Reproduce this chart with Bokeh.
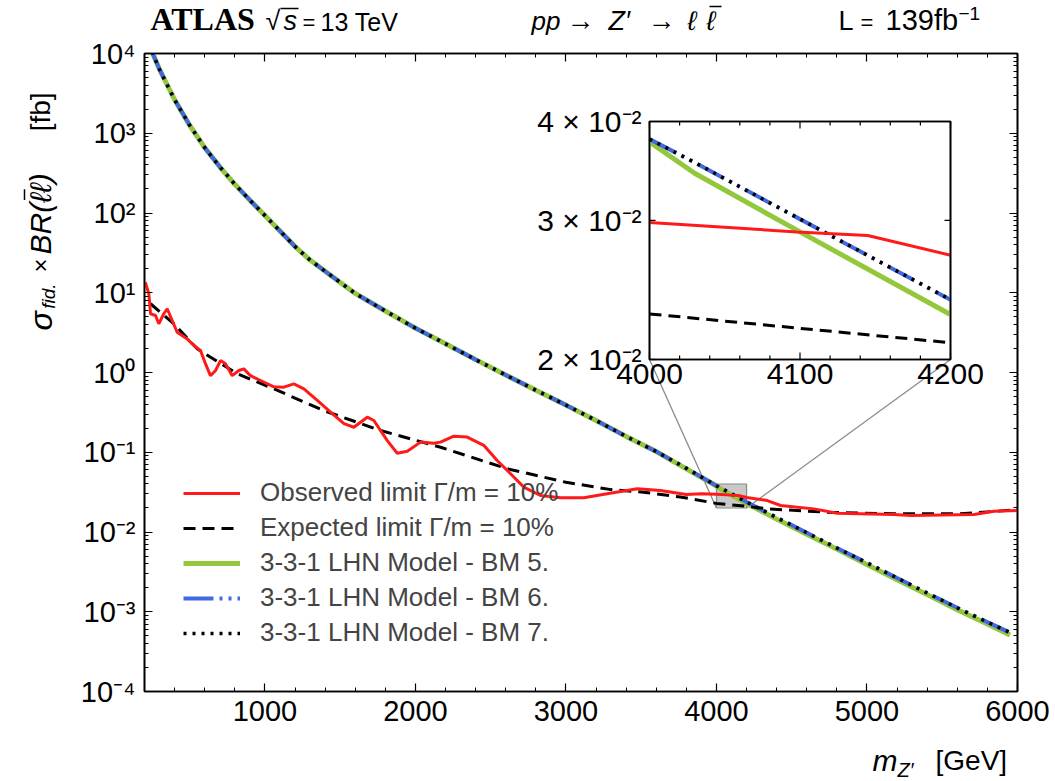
import numpy as np
from bokeh.plotting import figure
from bokeh.layouts import column, row
from bokeh.models import (Range1d, LogScale, FixedTicker, LinearAxis, LogAxis,
                          CustomJSTickFormatter, Legend, LegendItem)
from bokeh.core.properties import value
from bokeh.embed import file_html
from bokeh.resources import INLINE

# ---------------- data ----------------
model_mass = [250, 300, 400, 500, 600, 700, 800, 900, 1000, 1200, 1300, 1400, 1600, 1800,
              2000, 2200, 2400, 2600, 2800, 3000, 3200, 3400, 3600, 3800, 4000, 4030,
              4100, 4200, 4400, 4600, 4800, 5000, 5200, 5400, 5600, 5800, 5950]
bm5_xsec = [1.05e4, 6.3e3, 2.63e3, 1.26e3, 6.6e2, 3.8e2, 2.29e2, 1.45e2, 93.0, 38.0, 25.7,
            18.6, 9.8, 5.9, 3.6, 2.29, 1.45, 0.93, 0.60, 0.39, 0.25, 0.158, 0.102,
            0.062, 0.0377, 0.0344, 0.0290, 0.0228, 0.0145, 0.0094, 0.0061, 0.0039,
            0.00252, 0.00164, 0.00106, 0.00070, 0.00051]
bm6_xsec = [1.05e4, 6.3e3, 2.63e3, 1.26e3, 6.6e2, 3.8e2, 2.29e2, 1.45e2, 93.0, 38.0, 25.7,
            18.6, 9.8, 5.9, 3.6, 2.29, 1.45, 0.93, 0.60, 0.39, 0.25, 0.158, 0.102,
            0.063, 0.0380, 0.0355, 0.0301, 0.0238, 0.0152, 0.0098, 0.0063, 0.0041,
            0.00265, 0.00172, 0.00112, 0.00074, 0.00055]
bm7_xsec = [1.05e4, 6.3e3, 2.63e3, 1.26e3, 6.6e2, 3.8e2, 2.29e2, 1.45e2, 93.0, 38.0, 25.7,
            18.6, 9.8, 5.9, 3.6, 2.29, 1.45, 0.93, 0.60, 0.39, 0.25, 0.158, 0.102,
            0.063, 0.0380, 0.0355, 0.0301, 0.0238, 0.0152, 0.0098, 0.0063, 0.0041,
            0.00265, 0.00172, 0.00112, 0.00074, 0.00055]

observed_mass = [205, 229, 240, 273, 295, 328, 351, 384, 417, 484, 528, 572, 605, 638, 672,
                 705, 738, 783, 827, 860, 904, 971, 1059, 1126, 1192, 1259, 1348, 1436,
                 1525, 1591, 1680, 1724, 1813, 1879, 1946, 2034, 2122, 2167, 2255, 2344,
                 2454, 2543, 2632, 2720, 2831, 2964, 3119, 3274, 3474, 3628, 3800, 3900,
                 4000, 4098, 4145, 4200, 4338, 4426, 4647, 4802, 5179, 5290, 5711, 5844, 6010]
observed_xsec = [13.6, 9.7, 5.45, 5.19, 4.08, 5.45, 6.30, 4.49, 3.20, 2.64, 2.18, 1.89, 1.29,
                 0.912, 1.06, 1.41, 1.29, 0.912, 1.06, 1.11, 0.912, 0.794, 0.661, 0.655,
                 0.721, 0.625, 0.446, 0.318, 0.228, 0.206, 0.275, 0.250, 0.140, 0.0973,
                 0.103, 0.134, 0.130, 0.134, 0.159, 0.155, 0.122, 0.0789, 0.0537, 0.0365,
                 0.0287, 0.0269, 0.0269, 0.0301, 0.0348, 0.0331, 0.0295, 0.0302,
                 0.0298, 0.0290, 0.0287, 0.0271, 0.0248, 0.0215, 0.0195, 0.0172, 0.0166,
                 0.0161, 0.0166, 0.0182, 0.0186]

expected_mass = [240, 395, 550, 816, 1059, 1391, 1768, 2167, 2610, 3000, 3300, 3500, 3760,
                 4000, 4200, 4338, 4737, 5179, 5622, 6010]
expected_xsec = [7.28, 4.08, 1.98, 0.964, 0.625, 0.333, 0.1875, 0.1156, 0.0621, 0.0420,
                 0.0340, 0.0318, 0.0275, 0.02284, 0.0210, 0.0195, 0.0177, 0.0169, 0.0169,
                 0.0191]

x_major_ticks = [1000, 2000, 3000, 4000, 5000, 6000]
inset_x_ticks = [4000, 4100, 4200]
inset_y_ticks = [0.02, 0.03, 0.04]
inset_y_labels = ["2 × 10⁻²", "3 × 10⁻²", "4 × 10⁻²"]

legend_labels = ["Observed limit Γ/m = 10%", "Expected limit Γ/m = 10%",
                 "3-3-1 LHN Model - BM 5.", "3-3-1 LHN Model - BM 6.",
                 "3-3-1 LHN Model - BM 7."]

# ---------------- layout (canvas pixels of the 1055x781 page) ----------------
W, H = 1055, 781
TITLE_H, XLAB_H, YLAB_W = 36, 40, 60
MAIN_W, MAIN_H = W - YLAB_W, H - TITLE_H - XLAB_H
FL, FR, FT, FB = 144, 1017, 53, 691          # frame edges (canvas px)
X0, X1, Y0, Y1 = 200, 6000, 1e-4, 1e4
IL, IR, IT, IB = 649, 950, 121, 359          # inset box (canvas px)
IX0, IX1, IY0, IY1 = 4000, 4200, 0.02, 0.04  # inset data window

SANS = "Liberation Sans"


def mx(px):
    return X0 + (px - FL) / (FR - FL) * (X1 - X0)


def my(py):
    return 10 ** (np.log10(Y0) + (FB - py) / (FB - FT) * (np.log10(Y1) - np.log10(Y0)))


def ix(px):
    return IX0 + (px - IL) / (IR - IL) * (IX1 - IX0)


def iy(py):
    return 10 ** (np.log10(IY0) + (IB - py) / (IB - IT) * np.log10(IY1 / IY0))


p = figure(width=MAIN_W, height=MAIN_H, x_range=Range1d(X0, X1), y_range=Range1d(Y0, Y1),
           y_axis_type="log", output_backend="svg", toolbar_location=None,
           title_location=None,
           min_border_left=FL - YLAB_W, min_border_right=W - FR,
           min_border_top=FT - TITLE_H, min_border_bottom=(TITLE_H + MAIN_H) - FB)
p.title.visible = False
p.xgrid.visible = False
p.ygrid.visible = False
p.outline_line_color = "black"
p.outline_line_width = 1.6
p.background_fill_color = "white"
p.border_fill_color = "white"

p.extra_x_ranges = {"ix": Range1d(ix(FL), ix(FR))}
p.extra_y_ranges = {"iy": Range1d(iy(FB), iy(FT))}
p.extra_y_scales = {"iy": LogScale()}

xticker = FixedTicker(ticks=x_major_ticks, minor_ticks=list(range(200, 6001, 200)))
yticker = FixedTicker(ticks=[10.0 ** k for k in range(-4, 5)],
                      minor_ticks=[j * 10.0 ** k for k in range(-4, 4) for j in range(2, 10)])

sup_fmt = CustomJSTickFormatter(code="""
const e = Math.round(Math.log10(tick));
const s = {'-':'⁻','0':'⁰','1':'¹','2':'²','3':'³','4':'⁴','5':'⁵','6':'⁶','7':'⁷','8':'⁸','9':'⁹'};
return '10' + String(e).split('').map(c => s[c]).join('');
""")
empty_fmt = CustomJSTickFormatter(code="return '';")


def style_axis(ax, labels=True):
    ax.major_tick_in = 8
    ax.major_tick_out = 0
    ax.minor_tick_in = 4
    ax.minor_tick_out = 0
    ax.axis_line_width = 1.6
    ax.major_tick_line_width = 1.2
    ax.minor_tick_line_width = 1.0
    ax.major_label_text_font = SANS
    ax.major_label_text_font_size = "29px" if labels else "0px"
    ax.major_label_text_color = "black"
    ax.major_label_standoff = 9 if labels else 0


p.xaxis.ticker = xticker
p.yaxis.ticker = yticker
p.yaxis.formatter = sup_fmt
style_axis(p.xaxis[0])
style_axis(p.yaxis[0])
top_ax = LinearAxis(ticker=xticker, formatter=empty_fmt)
right_ax = LogAxis(ticker=yticker, formatter=empty_fmt)
style_axis(top_ax, labels=False)
style_axis(right_ax, labels=False)
p.add_layout(top_ax, "above")
p.add_layout(right_ax, "right")

RED, GREEN, BLUE = "#ff1a1a", "#94c83c", "#4169e1"

# zoom window in the main plot + connector lines
p.quad(left=[IX0], right=[IX1], bottom=[IY0], top=[IY1], fill_color="#c9c9c9",
       line_color="#8a8a8a", line_width=1.2)
p.segment(x0=[IX0, IX1], y0=[IY0, IY0], x1=[mx(IL), mx(IR)], y1=[my(IB), my(IB)],
          line_color="#8a8a8a", line_width=1.3)


def draw_series(xr=None, yr=None, filt=False):
    kw = {}
    if xr:
        kw = dict(x_range_name=xr, y_range_name=yr)

    def sel(m, v):
        if not filt:
            return m, v
        mm = [a for a in m if IX0 <= a <= IX1]
        vv = [b for a, b in zip(m, v) if IX0 <= a <= IX1]
        return mm, vv

    r = []
    m, v = sel(model_mass, bm5_xsec)
    r.append(p.line(m, v, line_color=GREEN, line_width=5, **kw))
    m, v = sel(model_mass, bm6_xsec)
    r.append(p.line(m, v, line_color=BLUE, line_width=4, line_dash="30 6 3 6 3 6", **kw))
    m, v = sel(model_mass, bm7_xsec)
    r.append(p.line(m, v, line_color="black", line_width=3.5, line_dash="3 6", **kw))
    m, v = sel(expected_mass, expected_xsec)
    r.append(p.line(m, v, line_color="black", line_width=3, line_dash="12 7", **kw))
    m, v = sel(observed_mass, observed_xsec)
    r.append(p.line(m, v, line_color=RED, line_width=3, **kw))
    return r


r_bm5, r_bm6, r_bm7, r_exp, r_obs = draw_series()

# ---------------- inset ----------------
p.quad(left=[IX0], right=[IX1], bottom=[IY0], top=[IY1], fill_color="white",
       line_color="black", line_width=1.6, x_range_name="ix", y_range_name="iy")
draw_series("ix", "iy", filt=True)

minor_x = list(range(IX0, IX1 + 1, 20))
tx0, ty0, tx1, ty1 = [], [], [], []
for t in minor_x:
    L = 7 if t in inset_x_ticks else 4
    tx0 += [t, t]; tx1 += [t, t]
    ty0 += [IY0, IY1]; ty1 += [iy(IB - L), iy(IT + L)]
for t in inset_y_ticks:
    tx0 += [IX0, IX1]; tx1 += [ix(IL + 6), ix(IR - 6)]
    ty0 += [t, t]; ty1 += [t, t]
p.segment(x0=tx0, y0=ty0, x1=tx1, y1=ty1, line_color="black", line_width=1.2,
          x_range_name="ix", y_range_name="iy")
p.quad(left=[IX0], right=[IX1], bottom=[IY0], top=[IY1], fill_color=None,
       line_color="black", line_width=1.6, x_range_name="ix", y_range_name="iy")

p.text(x=inset_x_ticks, y=[iy(IB + 4)] * 3, text=[str(t) for t in inset_x_ticks],
       x_range_name="ix", y_range_name="iy", text_font=value(SANS),
       text_font_size="30px", text_align="center", text_baseline="top", text_color="black")
p.text(x=[ix(IL - 8)] * 3, y=inset_y_ticks, text=inset_y_labels,
       x_range_name="ix", y_range_name="iy", text_font=value(SANS),
       text_font_size="30px", text_align="right", text_baseline="middle", text_color="black")

# ---------------- legend ----------------
legend = Legend(items=[LegendItem(label=legend_labels[0], renderers=[r_obs]),
                       LegendItem(label=legend_labels[1], renderers=[r_exp]),
                       LegendItem(label=legend_labels[2], renderers=[r_bm5]),
                       LegendItem(label=legend_labels[3], renderers=[r_bm6]),
                       LegendItem(label=legend_labels[4], renderers=[r_bm7])],
                location=(39, 43), glyph_width=57, glyph_height=30, label_height=30,
                label_standoff=20, spacing=4, padding=0, margin=0,
                border_line_color=None, background_fill_alpha=0,
                label_text_font=SANS, label_text_font_size="26px",
                label_text_baseline="middle")
p.add_layout(legend)


# ---------------- text strips around the plot (pixel coordinates) ----------------
def strip(w, h):
    f = figure(width=w, height=h, x_range=Range1d(0, w), y_range=Range1d(0, h),
               output_backend="svg", toolbar_location=None, min_border=0,
               title_location=None, x_axis_location=None, y_axis_location=None)
    f.title.visible = False
    f.xgrid.visible = False
    f.ygrid.visible = False
    f.outline_line_color = None
    f.background_fill_color = "white"
    f.border_fill_color = "white"
    return f


title_fig = strip(W, TITLE_H)
ylab_fig = strip(YLAB_W, MAIN_H)
xlab_fig = strip(W, XLAB_H)


def txt(f, top, px, base, text, size, style="normal", font=SANS):
    # horizontal text; 'base' is the wanted alphabetic baseline (canvas px)
    mid = base - 0.35 * size
    f.text(x=[px], y=[top - mid], text=[text], text_font=value(font),
           text_font_size=f"{size}px", text_font_style=style, text_baseline="middle",
           text_align="left", text_color="black")


def vtxt(f, top, cx, py, text, size, style="normal"):
    # text rotated 90 deg, centred on column cx, starting at canvas y = py
    f.text(x=[cx], y=[top - py], text=[text], text_font=value(SANS),
           text_font_size=f"{size}px", text_font_style=style, text_baseline="middle",
           text_align="left", angle=np.pi / 2, text_color="black")


def bar(f, top, x0, y0, x1, y1, w=1.3):
    f.segment(x0=[x0], y0=[top - y0], x1=[x1], y1=[top - y1], line_color="black",
              line_width=w)


# title row
T, B = TITLE_H, 30
txt(title_fig, T, 150, B, "ATLAS", 32, "bold", "Liberation Serif")
txt(title_fig, T, 265, B, "√", 27)
txt(title_fig, T, 283, B, "s", 27, "italic")
bar(title_fig, T, 280, 8, 298, 8)
txt(title_fig, T, 302, B, "=", 22)
txt(title_fig, T, 320, B, "13 TeV", 25)
txt(title_fig, T, 531, B, "pp", 26, "italic")
txt(title_fig, T, 566, B, "→", 28)
txt(title_fig, T, 608, B, "Z′", 27, "italic")
txt(title_fig, T, 647, B, "→", 28)
txt(title_fig, T, 687, B, "ℓ", 27, "italic")
txt(title_fig, T, 706, B, "ℓ", 27, "italic")
bar(title_fig, T, 709, 6, 721, 6, 1.5)
txt(title_fig, T, 838, B, "L", 27)
txt(title_fig, T, 860, B, "=", 22)
txt(title_fig, T, 885, B, "139fb", 29)
txt(title_fig, T, 958, B - 10, "−1", 19)

# x axis title
txt(xlab_fig, H, 872, 770, "m", 30, "italic")
txt(xlab_fig, H, 897, 776, "Z′", 20, "italic")
txt(xlab_fig, H, 935, 770, "[GeV]", 28)

# y axis title, rotated
YT = TITLE_H + MAIN_H
vtxt(ylab_fig, YT, 40, 342, "σ", 32, "italic")
vtxt(ylab_fig, YT, 48, 318, "fid.", 19, "italic")
vtxt(ylab_fig, YT, 40, 278, "×", 24)
vtxt(ylab_fig, YT, 40, 258, "BR(ℓℓ)", 30, "italic")
bar(ylab_fig, YT, 24, 198, 24, 186, 1.5)
vtxt(ylab_fig, YT, 40, 122, "[fb]", 28)

layout = column(title_fig, row(ylab_fig, p, spacing=0), xlab_fig, spacing=0)
open("out.html", "w").write(file_html(layout, INLINE))
